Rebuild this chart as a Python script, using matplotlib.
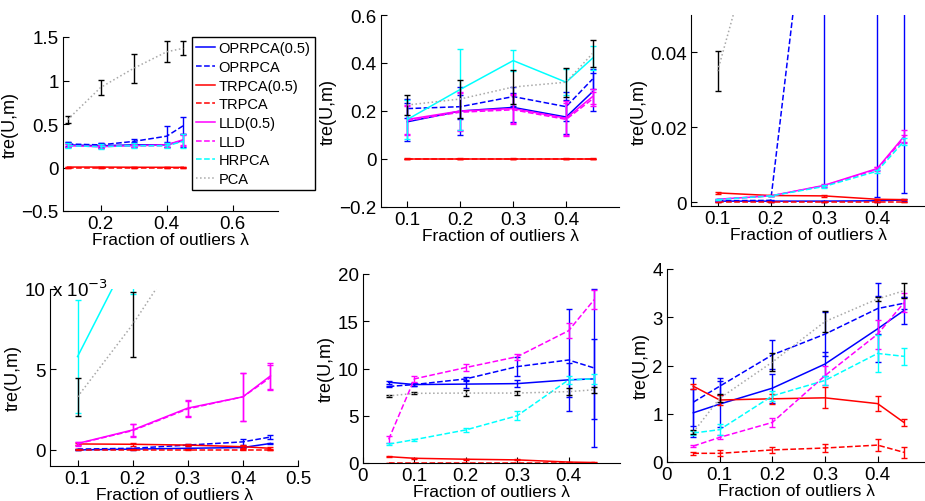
import matplotlib.pyplot as plt
import numpy as np
from matplotlib.ticker import FuncFormatter

plt.rcParams['font.family'] = ['Liberation Sans', 'DejaVu Sans']
plt.rcParams['font.size'] = 12

nan = np.nan
methods = ['OPRPCA(0.5)', 'OPRPCA', 'TRPCA(0.5)', 'TRPCA', 'LLD(0.5)', 'LLD', 'HRPCA', 'PCA']
colors = ['#0000ff', '#0000ff', '#ff0000', '#ff0000', '#ff00ff', '#ff00ff', '#00ffff', '#a8a8a8']
styles = ['-', '--', '-', '--', '-', '--', '--', ':']
bar_colors = ['#0000ff', '#0000ff', '#ff0000', '#ff0000', '#ff00ff', '#ff00ff', '#00ffff', 'k']
hr_style = ['--', '-', '--', '-', '--', '--']   # HRPCA line style per panel

x_a = [0.1, 0.2, 0.3, 0.4, 0.45]
x_b = [0.05, 0.1, 0.2, 0.3, 0.4, 0.45]

# panel 1
p1_mean = {
    'OPRPCA(0.5)': [0.26, 0.25, 0.26, 0.26, 0.31],
    'OPRPCA': [0.27, 0.26, 0.30, 0.36, 0.48],
    'TRPCA(0.5)': [0.005, 0.005, 0.003, 0.002, 0.002],
    'TRPCA': [0, 0, 0, 0, 0],
    'LLD(0.5)': [0.25, 0.24, 0.25, 0.26, 0.32],
    'LLD': [0.25, 0.24, 0.25, 0.25, 0.31],
    'HRPCA': [0.25, 0.24, 0.25, 0.25, 0.30],
    'PCA': [0.55, 0.92, 1.14, 1.33, 1.37]}
p1_err = {
    'OPRPCA(0.5)': [0.03, 0.03, 0.03, 0.03, 0.08],
    'OPRPCA': [0.02, 0.02, 0.03, 0.12, 0.10],
    'TRPCA(0.5)': [0.005] * 5,
    'TRPCA': [0.003] * 5,
    'LLD(0.5)': [0.02, 0.02, 0.02, 0.02, 0.06],
    'LLD': [0.02, 0.02, 0.02, 0.02, 0.06],
    'HRPCA': [0.03, 0.03, 0.03, 0.03, 0.08],
    'PCA': [0.04, 0.09, 0.17, 0.12, 0.08]}

# panel 2
p2_mean = {
    'OPRPCA(0.5)': [0.155, 0.20, 0.215, 0.175, 0.28],
    'OPRPCA': [0.21, 0.218, 0.26, 0.218, 0.333],
    'TRPCA(0.5)': [0.002] * 5,
    'TRPCA': [0] * 5,
    'LLD(0.5)': [0.165, 0.20, 0.21, 0.17, 0.26],
    'LLD': [0.16, 0.195, 0.205, 0.165, 0.25],
    'HRPCA': [0.165, 0.29, 0.41, 0.32, 0.42],
    'PCA': [0.225, 0.25, 0.30, 0.32, 0.44]}
p2_err = {
    'OPRPCA(0.5)': [0.08, 0.10, 0.06, 0.07, 0.08],
    'OPRPCA': [0.04, 0.05, 0.04, 0.06, 0.04],
    'TRPCA(0.5)': [0.001] * 5,
    'TRPCA': [0.001] * 5,
    'LLD(0.5)': [0.06, 0.08, 0.06, 0.07, 0.03],
    'LLD': [0.06, 0.08, 0.06, 0.07, 0.03],
    'HRPCA': [0.08, 0.17, 0.045, 0.055, 0.05],
    'PCA': [0.04, 0.08, 0.07, 0.06, 0.055]}

# panel 3
p3_mean = {
    'OPRPCA(0.5)': [0.0003, 0.0003, 0.0003, 0.0004, 0.0006],
    'OPRPCA': [0.0004, 0.0005, 0.12, 0.25, 0.30],
    'TRPCA(0.5)': [0.0025, 0.0018, 0.0017, 0.0008, 0.0007],
    'TRPCA': [0.0001] * 5,
    'LLD(0.5)': [0.0008, 0.0017, 0.0045, 0.009, 0.0175],
    'LLD': [0.0008, 0.0017, 0.0044, 0.0088, 0.017],
    'HRPCA': [0.0007, 0.0017, 0.0042, 0.0083, 0.0162],
    'PCA': [0.035, 0.086, 0.12, 0.15, 0.16]}
p3_err = {
    'OPRPCA(0.5)': [0.0001, 0.0001, 0.0001, 0.0002, 0.0002],
    'OPRPCA': [0.0001, 0.0001, 0.1155, 0.2487, 0.2974],
    'TRPCA(0.5)': [0.0003, 0.0001, 0.0002, 0.0002, 0.0001],
    'TRPCA': [0.00005] * 5,
    'LLD(0.5)': [0.0001, 0.0001, 0.0003, 0.0005, 0.0018],
    'LLD': [0.0001, 0.0001, 0.0003, 0.0005, 0.0010],
    'HRPCA': [0.0001, 0.0001, 0.0003, 0.0004, 0.0009],
    'PCA': [0.0053, 0.01, 0.01, 0.01, 0.01]}

# panel 4
p4_mean = {
    'OPRPCA(0.5)': [0.0, 0.00005, 0.0001, 0.00015, 0.0004],
    'OPRPCA': [0.00005, 0.0001, 0.0003, 0.0005, 0.0008],
    'TRPCA(0.5)': [0.00037, 0.00035, 0.0003, 0.0002, 0.0001],
    'TRPCA': [0.0] * 5,
    'LLD(0.5)': [0.0004, 0.00124, 0.0026, 0.0033, 0.0046],
    'LLD': [0.00038, 0.0012, 0.00255, 0.0033, 0.0045],
    'HRPCA': [0.0058, 0.0125, 0.016, 0.02, 0.022],
    'PCA': [0.0033, 0.0078, 0.013, 0.016, 0.018]}
p4_err = {
    'OPRPCA(0.5)': [0.00003, 0.00003, 0.00003, 0.00003, 0.00005],
    'OPRPCA': [0.00003, 0.00003, 0.00005, 0.0002, 0.00015],
    'TRPCA(0.5)': [0.00008] * 5,
    'TRPCA': [0.00003] * 5,
    'LLD(0.5)': [0.00012, 0.0004, 0.0005, 0.0015, 0.0008],
    'LLD': [0.00012, 0.0004, 0.0005, 0.0015, 0.0008],
    'HRPCA': [0.0035, 0.0028, 0.003, 0.003, 0.003],
    'PCA': [0.0012, 0.002, 0.002, 0.002, 0.002]}

# panel 5
p5_mean = {
    'OPRPCA(0.5)': [8.55, 8.3, 8.35, 8.4, 8.8, 8.9],
    'OPRPCA': [8.1, 8.3, 8.9, 10.2, 10.9, 10.05],
    'TRPCA(0.5)': [0.67, 0.5, 0.4, 0.33, 0.1, 0.05],
    'TRPCA': [0.02] * 6,
    'LLD(0.5)': [nan] * 6,
    'LLD': [2.5, 8.9, 10.1, 11.25, 14.0, 17.3],
    'HRPCA': [2.0, 2.47, 3.5, 5.0, 8.8, 8.9],
    'PCA': [7.1, 7.37, 7.4, 7.4, 7.55, 7.75]}
p5_err = {
    'OPRPCA(0.5)': [0.15, 0.2, 0.4, 0.4, 1.8, 4.2],
    'OPRPCA': [0.1, 0.2, 0.25, 1.0, 5.4, 8.4],
    'TRPCA(0.5)': [0.05] * 6,
    'TRPCA': [0.02] * 6,
    'LLD(0.5)': [nan] * 6,
    'LLD': [0.4, 0.3, 0.35, 0.3, 0.8, 1.0],
    'HRPCA': [0.12, 0.12, 0.25, 0.45, 0.4, 0.5],
    'PCA': [0.1, 0.12, 0.3, 0.25, 0.4, 0.3]}

# panel 6
p6_mean = {
    'OPRPCA(0.5)': [1.02, 1.2, 1.53, 2.03, 2.76, 3.14],
    'OPRPCA': [1.24, 1.57, 2.22, 2.65, 3.18, 3.29],
    'TRPCA(0.5)': [1.57, 1.285, 1.31, 1.33, 1.21, 0.82],
    'TRPCA': [0.18, 0.18, 0.25, 0.29, 0.35, 0.2],
    'LLD(0.5)': [nan] * 6,
    'LLD': [0.33, 0.51, 0.82, 1.79, 2.65, 3.3],
    'HRPCA': [0.6, 0.67, 1.37, 1.69, 2.25, 2.19],
    'PCA': [0.62, 1.32, 2.07, 2.91, 3.38, 3.55]}
p6_err = {
    'OPRPCA(0.5)': [0.5, 0.47, 0.3, 0.25, 0.69, 0.27],
    'OPRPCA': [0.5, 0.18, 0.3, 0.45, 0.53, 0.12],
    'TRPCA(0.5)': [0.05, 0.1, 0.1, 0.22, 0.16, 0.07],
    'TRPCA': [0.03, 0.06, 0.07, 0.08, 0.13, 0.12],
    'LLD(0.5)': [nan] * 6,
    'LLD': [0.02, 0.04, 0.1, 0.2, 0.3, 0.2],
    'HRPCA': [0.05, 0.12, 0.1, 0.1, 0.38, 0.18],
    'PCA': [0.05, 0.08, 0.18, 0.21, 0.04, 0.15]}

panels = [
    (x_a, p1_mean, p1_err, (63, 38, 278, 212), (0.086, 0.737), (-0.5, 1.5),
     [0.2, 0.4, 0.6], [-0.5, 0, 0.5, 1, 1.5]),
    (x_a, p2_mean, p2_err, (381, 16, 619, 208), (0.05, 0.5), (-0.2, 0.6),
     [0.1, 0.2, 0.3, 0.4], [-0.2, 0, 0.2, 0.4, 0.6]),
    (x_a, p3_mean, p3_err, (691, 16, 925, 207), (0.05, 0.49), (-0.001, 0.05),
     [0.1, 0.2, 0.3, 0.4], [0, 0.02, 0.04]),
    (x_a, p4_mean, p4_err, (50, 290, 298, 467), (0.05, 0.5), (-0.001, 0.01),
     [0.1, 0.2, 0.3, 0.4, 0.5], [0, 0.005, 0.01]),
    (x_b, p5_mean, p5_err, (363, 275, 620, 464), (0, 0.5), (0, 20),
     [0, 0.1, 0.2, 0.3, 0.4], [0, 5, 10, 15, 20]),
    (x_b, p6_mean, p6_err, (667, 270, 925, 463), (0, 0.49), (0, 4),
     [0, 0.1, 0.2, 0.3, 0.4], [0, 1, 2, 3, 4]),
]

W, H = 925, 502
fig = plt.figure(figsize=(W / 100, H / 100), dpi=100)
fmt = FuncFormatter(lambda v, p: ('%g' % v).replace('-', '\u2212'))
fmt_e3 = FuncFormatter(lambda v, p: '%g' % round(v * 1000, 6))

handles = []
for k, (x, mean, err, (l, t, r, b), xl, yl, xt, yt) in enumerate(panels):
    ax = fig.add_axes([l / W, 1 - b / H, (r - l) / W, (b - t) / H])
    for i, m in enumerate(methods):
        ls = hr_style[k] if m == 'HRPCA' else styles[i]
        ax.errorbar(x, mean[m], yerr=err[m], fmt='none', ecolor=bar_colors[i],
                    elinewidth=1.0, capsize=2.2, capthick=1.0)
        line, = ax.plot(x, mean[m], color=colors[i], linestyle=ls, lw=1.1,
                        label=m)
        if k == 0:
            handles.append(line)
    ax.set_xlim(xl)
    ax.set_ylim(yl)
    ax.set_xticks(xt)
    ax.set_yticks(yt)
    ax.xaxis.set_major_formatter(fmt)
    ax.yaxis.set_major_formatter(fmt_e3 if k == 3 else fmt)
    for s in ['top', 'right']:
        ax.spines[s].set_visible(False)
    ax.tick_params(direction='in', length=4, labelsize=13.5, pad=3)
    ax.set_xlabel('Fraction of outliers \u03bb', fontsize=12.5, labelpad=0)
    ax.set_ylabel('tre(U,m)', fontsize=13, labelpad=2)
    if k == 3:
        ax.text(0.01, 1.0, 'x 10$^{-3}$', transform=ax.transAxes,
                ha='left', va='center', fontsize=13.5)

leg = fig.legend(handles=handles, loc='upper left',
                 bbox_to_anchor=(192 / W, 1 - 38 / H), borderaxespad=0,
                 fontsize=10.5, frameon=True, fancybox=False,
                 edgecolor='black', framealpha=1, handlelength=1.3,
                 labelspacing=0.32, borderpad=0.3, handletextpad=0.2)
leg.get_frame().set_linewidth(1.0)

fig.savefig('out.png', dpi=100)
